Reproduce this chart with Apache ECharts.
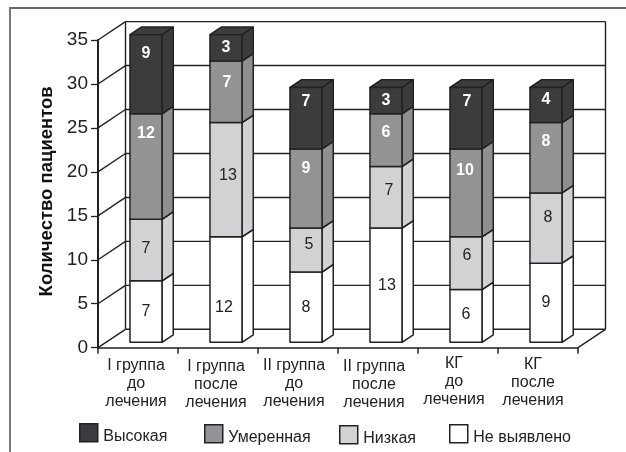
<!DOCTYPE html>
<html>
<head>
<meta charset="utf-8">
<style>html,body{margin:0;padding:0;background:#fff}#chart{width:626px;height:452px}</style>
<script src="https://cdn.jsdelivr.net/npm/echarts@6/dist/echarts.min.js"></script>
</head>
<body>
<div id="chart"></div>
<script>
// Patient counts per study group, stacked from the bottom up
const categories = ['I группа\nдо\nлечения', 'I группа\nпосле\nлечения', 'II группа\nдо\nлечения', 'II группа\nпосле\nлечения', 'КГ\nдо\nлечения', 'КГ\nпосле\nлечения'];
const notDetected = [7, 12, 8, 13, 6, 9];
const low = [7, 13, 5, 7, 6, 8];
const moderate = [12, 7, 9, 6, 10, 8];
const high = [9, 3, 7, 3, 7, 4];
const yTicks = [0, 5, 10, 15, 20, 25, 30, 35];

// Pseudo-3D projection of the chart box, in pixels
const DEPTH_X = 27.5, DEPTH_Y = 18.4;
const BAR_NEAR = 0.29, BAR_DEPTH = 0.41, BAR_WIDTH = 0.4;
const INK = '#222';
const FONT = '"Liberation Sans", Arial, sans-serif';

// Vertical nudges of the value captions inside their segments
const liftNotDetected = [0, 18, 0, 0, -1, 0];
const liftLow = [-1, -4, -5, -7, -8, -10];
const liftModerate = [-33, -9, -20, -8, -22, -16];
const liftHigh = [-21, 0, -17, 0, -17, -5];
// Horizontal nudges of the captions
const shiftNotDetected = [0, -2, 0, 1, 0, 0];
const shiftLow = [0, 2, 3, 3, 1, 2];
const shiftModerate = [0, 1, 0, 0, -1, 0];
const shiftHigh = [0, 0, 0, 0, 1, 0];
// Offsets of each category caption: left shift and downward drop
const captionShift = [2, 2, 4, 4, 4, 5];
const captionDrop = [2, 3, 2, 3, 0, 1];

const levels = [
  { name: 'Не выявлено', values: notDetected, face: '#ffffff', side: '#ffffff', cap: '#ffffff', text: INK, weight: 'normal', lift: liftNotDetected, shift: shiftNotDetected },
  { name: 'Низкая', values: low, face: '#d1d2d4', side: '#d1d2d4', cap: '#d1d2d4', text: INK, weight: 'normal', lift: liftLow, shift: shiftLow },
  { name: 'Умеренная', values: moderate, face: '#929395', side: '#8e8f91', cap: '#929395', text: '#fff', weight: 'bold', lift: liftModerate, shift: shiftModerate },
  { name: 'Высокая', values: high, face: '#3c3c3e', side: '#3c3c3e', cap: '#3c3c3e', text: '#fff', weight: 'bold', lift: liftHigh, shift: shiftHigh }
];

function poly(points, fill) {
  return {
    type: 'polygon',
    shape: { points: points },
    style: { fill: fill, stroke: INK, lineWidth: 1.5, lineJoin: 'round' }
  };
}

function segmentRenderer(level) {
  return function (params, api) {
    const i = api.value(0);
    const bottom = api.coord([i, api.value(1)]);
    const top = api.coord([i, api.value(2)]);
    const band = api.size([1, 0])[0];
    const w = band * BAR_WIDTH;
    const ox = bottom[0] + DEPTH_X * BAR_NEAR - w / 2;
    const oy = -DEPTH_Y * BAR_NEAR;
    const dx = DEPTH_X * BAR_DEPTH, dy = -DEPTH_Y * BAR_DEPTH;
    const y0 = bottom[1] + oy, y1 = top[1] + oy;
    return {
      type: 'group',
      children: [
        poly([[ox + w, y0], [ox + w + dx, y0 + dy], [ox + w + dx, y1 + dy], [ox + w, y1]], level.side),
        poly([[ox, y1], [ox + w, y1], [ox + w + dx, y1 + dy], [ox + dx, y1 + dy]], level.cap),
        poly([[ox, y0], [ox + w, y0], [ox + w, y1], [ox, y1]], level.face),
        {
          type: 'text',
          style: {
            x: ox + w / 2 + level.shift[i],
            y: (y0 + y1) / 2 + level.lift[i],
            text: String(api.value(2) - api.value(1)),
            fill: level.text,
            font: level.weight + ' 16px ' + FONT,
            align: 'center',
            verticalAlign: 'middle'
          }
        }
      ]
    };
  };
}

function line(x1, y1, x2, y2) {
  return {
    type: 'line',
    shape: { x1: x1, y1: y1, x2: x2, y2: y2 },
    style: { stroke: INK, lineWidth: 1.4 }
  };
}

// Back wall, side wall and floor, one tick level at a time
function wallRenderer(params, api) {
  const v = api.value(0);
  const y = api.coord([0, v])[1];
  const box = params.coordSys;
  const left = box.x, right = box.x + box.width;
  const children = [
    line(left, y, left + DEPTH_X, y - DEPTH_Y),
    line(left + DEPTH_X, y - DEPTH_Y, right + DEPTH_X, y - DEPTH_Y)
  ];
  if (v === 0) {
    const topY = box.y - DEPTH_Y;
    children.push(line(right, y, right + DEPTH_X, y - DEPTH_Y));
    children.push(line(left + DEPTH_X, y - DEPTH_Y, left + DEPTH_X, topY));
    children.push(line(right + DEPTH_X, y - DEPTH_Y, right + DEPTH_X, topY));
  }
  return { type: 'group', children: children };
}

const series = [{
  type: 'custom',
  name: 'wall',
  silent: true,
  z: 1,
  data: yTicks.map(function (t) { return [t]; }),
  encode: { y: 0 },
  renderItem: wallRenderer
}];

const running = categories.map(function () { return 0; });
levels.forEach(function (level) {
  series.push({
    type: 'custom',
    name: level.name,
    z: 2,
    itemStyle: { color: level.face },
    encode: { x: 0, y: [1, 2] },
    data: level.values.map(function (v, i) {
      const row = [i, running[i], running[i] + v];
      running[i] += v;
      return row;
    }),
    renderItem: segmentRenderer(level)
  });
});

const legendSpots = [
  { name: 'Высокая', left: 79, top: 423 },
  { name: 'Умеренная', left: 204, top: 424 },
  { name: 'Низкая', left: 339, top: 425 },
  { name: 'Не выявлено', left: 449, top: 424 }
];
const legendColors = { 'Высокая': '#3c3c3e', 'Умеренная': '#929395', 'Низкая': '#d1d2d4', 'Не выявлено': '#ffffff' };

const chart = echarts.init(document.getElementById('chart'), null, { renderer: 'canvas' });
chart.setOption({
  animation: false,
  backgroundColor: '#fff',
  grid: { left: 98, right: 48, top: 40, bottom: 104.3, containLabel: false },
  xAxis: {
    type: 'category',
    data: categories.map(function (c, i) {
      return { value: c, textStyle: { padding: [captionDrop[i], captionShift[i] * 2, 0, 0] } };
    }),
    boundaryGap: true,
    axisLine: { lineStyle: { color: INK, width: 1.5 } },
    axisTick: { show: true, length: 6, alignWithLabel: false, lineStyle: { color: INK, width: 1.5 } },
    axisLabel: { interval: 0, margin: 7, color: '#222', fontFamily: FONT, fontSize: 16, lineHeight: 18 },
    splitLine: { show: false }
  },
  yAxis: {
    type: 'value',
    min: 0,
    max: 35,
    interval: 5,
    name: 'Количество пациентов',
    nameLocation: 'middle',
    nameRotate: 90,
    nameGap: 40,
    nameTextStyle: { color: '#111', fontFamily: FONT, fontSize: 18.5, fontWeight: 'bold', padding: [0, 0, 0, 5] },
    axisLine: { show: true, lineStyle: { color: INK, width: 2 } },
    axisTick: { show: true, length: 7, lineStyle: { color: INK, width: 1.3 } },
    axisLabel: { margin: 10, color: '#222', fontFamily: FONT, fontSize: 19 },
    splitLine: { show: false }
  },
  legend: legendSpots.map(function (spot) {
    return {
      left: spot.left,
      top: spot.top,
      padding: 0,
      itemWidth: 18,
      itemHeight: 18,
      itemGap: 0,
      selectedMode: false,
      formatter: '{t|{name}}',
      textStyle: {
        color: '#222',
        fontFamily: FONT,
        fontSize: 16,
        rich: { t: { color: '#222', fontFamily: FONT, fontSize: 16, padding: [8, 0, 0, 0.5] } }
      },
      data: [{ name: spot.name, icon: 'rect', itemStyle: { color: legendColors[spot.name], borderColor: INK, borderWidth: 1.5 } }]
    };
  }),
  series: series,
  graphic: [
    // Frame around the chart: open on the right and at the bottom
    { type: 'polyline', silent: true, shape: { points: [[10, 452], [10, 8], [626, 8]] }, style: { fill: null, stroke: '#6a6a6a', lineWidth: 1.8 } }
  ]
});
</script>
</body>
</html>
